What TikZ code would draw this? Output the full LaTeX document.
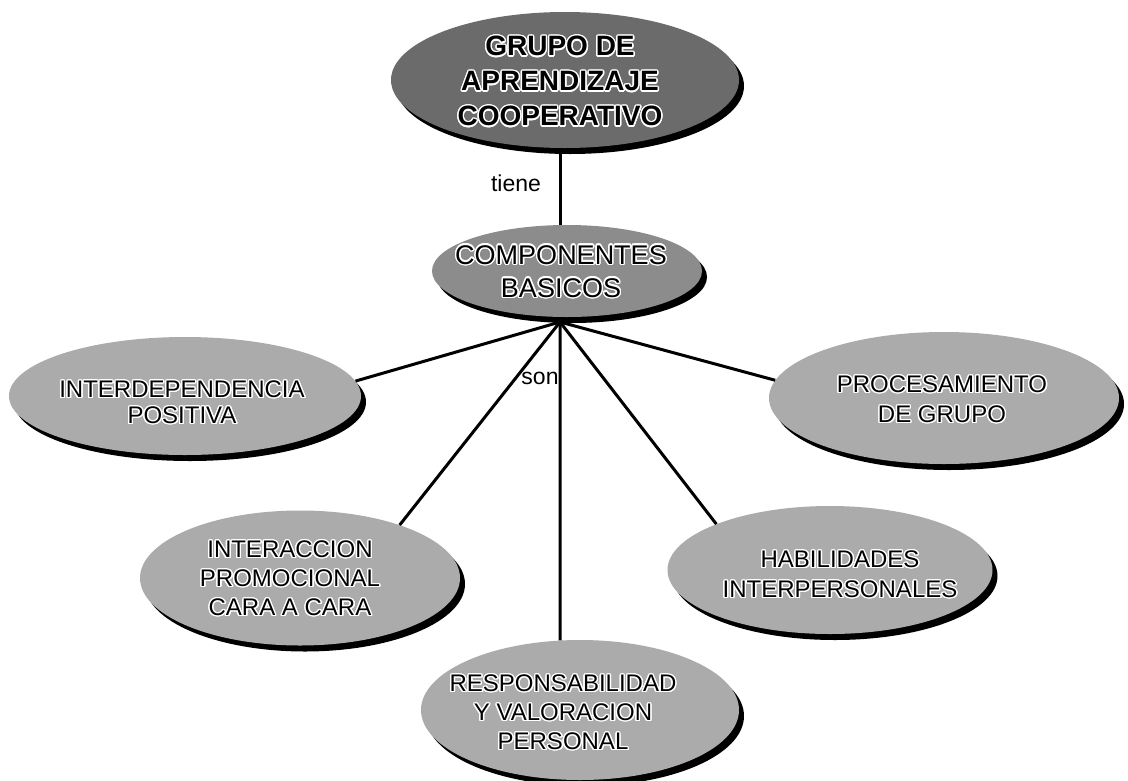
\documentclass[tikz,border=0pt]{standalone}
\usepackage{fontspec}
\setmainfont{Liberation Sans}
\usepackage{contour}
\contourlength{1.4pt}
\usetikzlibrary{shapes.geometric,shadows}

% white halo around each line of text
\newcommand{\halo}[1]{\contour{white}{#1}}

\tikzset{
  blob/.style={ellipse, inner sep=0pt, draw=none,
    drop shadow={shadow xshift=5pt, shadow yshift=-6pt, fill=black, opacity=1}},
  lbl/.style={align=center, inner sep=0pt, text=black,
    font=\fontsize{24}{29}\selectfont},
  link/.style={draw=black, line width=3pt},
  word/.style={inner sep=0pt, font=\fontsize{23}{27}\selectfont}
}

\begin{document}
\begin{tikzpicture}[x=1pt,y=-1pt]
  \useasboundingbox (0,0) rectangle (1128,780);
  \fill[white] (0,0) rectangle (1128,780);

  % ellipses
  \node[blob, fill=black!58, minimum width=348pt, minimum height=136pt] (grupo) at (565,80) {};
  \node[blob, fill=black!45, minimum width=270pt, minimum height=92pt] (comp) at (567,271) {};
  \node[blob, fill=black!33, minimum width=352pt, minimum height=118pt] (interdep) at (185,396) {};
  \node[blob, fill=black!33, minimum width=350pt, minimum height=132pt] (proc) at (944,398) {};
  \node[blob, fill=black!33, minimum width=320pt, minimum height=135pt] (inter) at (300,578) {};
  \node[blob, fill=black!33, minimum width=325pt, minimum height=128pt] (hab) at (830,570) {};
  \node[blob, fill=black!33, minimum width=318pt, minimum height=140pt] (resp) at (580,710) {};

  % texts
  \node[lbl, font=\bfseries\fontsize{28}{35}\selectfont] (grupoT) at (560,82)
    {\halo{GRUPO DE}\\\halo{APRENDIZAJE}\\\halo{COOPERATIVO}};
  \node[lbl, font=\fontsize{27}{33}\selectfont] (compT) at (561,272)
    {\halo{COMPONENTES}\\\halo{BASICOS}};
  \node[lbl, font=\fontsize{24}{26}\selectfont] (interdepT) at (182,403)
    {\halo{INTERDEPENDENCIA}\\\halo{POSITIVA}};
  \node[lbl, font=\fontsize{24}{30}\selectfont] (procT) at (942,400)
    {\halo{PROCESAMIENTO}\\\halo{DE GRUPO}};
  \node[lbl] (interT) at (290,579)
    {\halo{INTERACCION}\\\halo{PROMOCIONAL}\\\halo{CARA A CARA}};
  \node[lbl, font=\fontsize{24}{30}\selectfont] (habT) at (840,575)
    {\halo{HABILIDADES}\\\halo{INTERPERSONALES}};
  \node[lbl] (respT) at (563,713)
    {\halo{RESPONSABILIDAD}\\\halo{Y VALORACION}\\\halo{PERSONAL}};

  % connectors
  \coordinate (hub) at (560,322);
  \draw[link] (hub |- grupo.south) -- (hub |- comp.north);
  \draw[link] (hub) -- (interdep.5);
  \draw[link] (hub) -- (proc.174);
  \draw[link] (hub) -- (inter.28);
  \draw[link] (hub) -- (hab.158);
  \draw[link] (hub) -- (resp.106);

  % link words
  \node[word] (tiene) at (516,183) {tiene};
  \node[word] (son) at (540,378) {son};
\end{tikzpicture}
\end{document}
